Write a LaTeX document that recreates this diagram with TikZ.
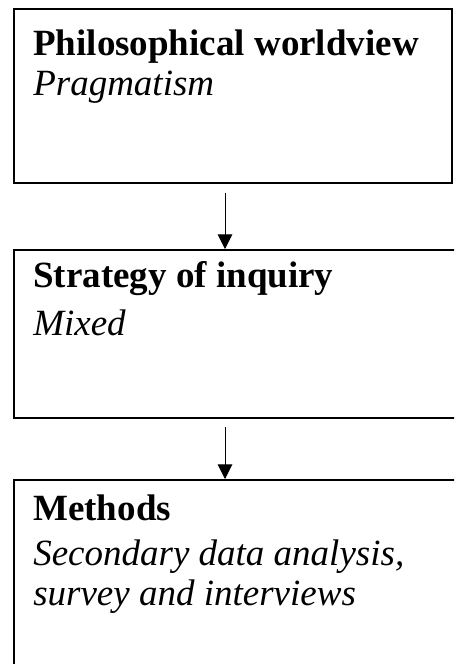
\documentclass[tikz,border=0pt]{standalone}
\usepackage{fontspec}
\setmainfont{Liberation Serif}
\usetikzlibrary{arrows.meta}

\begin{document}
\begin{tikzpicture}[x=0.75pt,y=-0.75pt,>={Triangle[width=11pt,length=11pt]},
  box/.style={draw,line width=1.4pt,anchor=north west,inner sep=0pt},
  head/.style={anchor=base west,inner sep=0pt,font=\fontsize{27.75pt}{30pt}\selectfont\bfseries},
  body/.style={anchor=base west,inner sep=0pt,align=left,font=\fontsize{27.75pt}{30pt}\selectfont\itshape}]
\useasboundingbox (0,0) rectangle (454,664);
\clip (0,0) rectangle (454,664);
\node[box,minimum width=328.5pt,minimum height=130.5pt] (phil) at (13,8) {};
\node[box,minimum width=342.75pt,minimum height=126pt] (strat) at (13,249) {};
\node[box,minimum width=342.75pt,minimum height=165.75pt] (meth) at (13,479) {};
\node[head] (philhead) at (33,55) {Philosophical worldview};
\node[body] (philbody) at (33,95) {Pragmatism};
\node[head] (strathead) at (33,287) {Strategy of inquiry};
\node[body] (stratbody) at (33,335) {Mixed};
\node[head] (methhead) at (33,520) {Methods};
% base anchor sits on the last line
\node[body] (methbody) at (33,605) {Secondary data analysis,\\survey and interviews};
\coordinate (a1) at (225,193);
\coordinate (a2) at (225,427);
\draw[->,line width=0.75pt] (a1) -- (a1 |- strat.north);
\draw[->,line width=0.75pt] (a2) -- (a2 |- meth.north);
\end{tikzpicture}
\end{document}
